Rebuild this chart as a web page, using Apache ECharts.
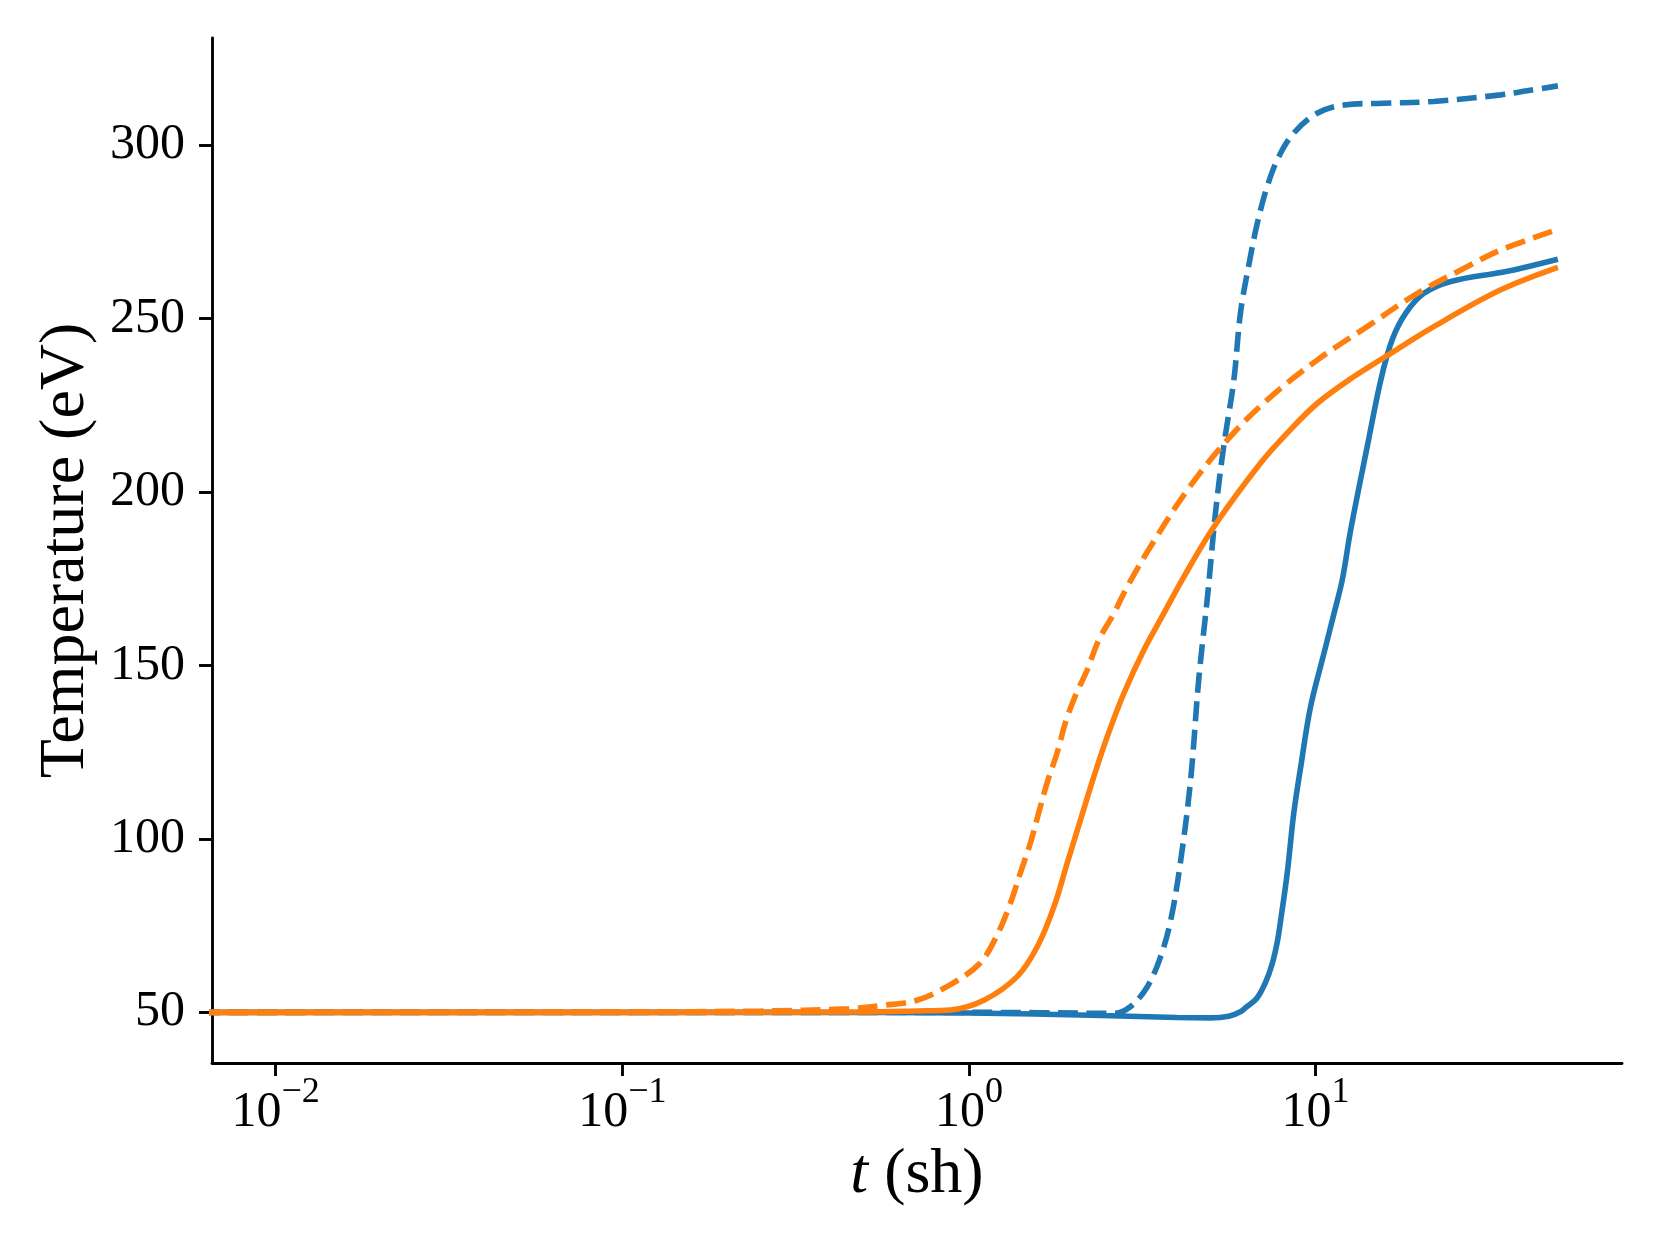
<!DOCTYPE html>
<html>
<head>
<meta charset="utf-8">
<title>Temperature vs t</title>
<script src="https://cdn.jsdelivr.net/npm/echarts@6/dist/echarts.min.js"></script>
<style type="text/css">
    html, body { margin: 0; padding: 0; background: #fff; }
    #main { width: 1660px; height: 1245px; }
</style>
</head>
<body>
<div id="main"></div>
<script type="text/javascript">
    // time points (sh) and temperatures (eV)
    var blueSolidT = [0.005, 0.316, 1, 2.40, 3.98, 4.98, 5.62, 6.07, 6.31, 6.76, 7.16, 7.50, 7.76, 7.93, 8.28, 8.65, 9.06, 9.67, 10.57, 11.30, 11.94, 12.62, 14.09, 15.42, 16.63, 18.20, 20.54, 24.55, 34.2, 37.3, 50];
    var blueSolidTemp = [50, 50, 49.8, 49.1, 48.5, 48.4, 48.9, 50.2, 51.5, 54.0, 58.5, 64.1, 70.5, 76.6, 90, 107.4, 120.8, 138.1, 153.5, 165, 174.7, 189, 213.1, 232.3, 243.9, 251.6, 257.3, 260.7, 263.3, 264, 267.1];

    var blueDashT = [0.005, 1, 1.58, 2.62, 2.92, 3.27, 3.57, 3.82, 4.07, 4.36, 4.60, 4.89, 5.14, 5.43, 5.81, 6.07, 6.43, 6.79, 7.25, 7.83, 8.65, 10.1, 12.1, 15.7, 21.9, 34.2, 40.8, 50];
    var blueDashTemp = [50, 50, 49.9, 49.7, 51.6, 57.4, 66, 76.6, 92.9, 117, 145.8, 171, 193.8, 213.1, 232.3, 251.6, 265.9, 277.5, 288.1, 296.7, 303.5, 309.2, 311.6, 312.1, 312.6, 314.5, 315.7, 317.1];

    var orangeSolidT = [0.005, 0.1, 0.5, 0.708, 0.884, 1.104, 1.377, 1.574, 1.758, 1.920, 2.098, 2.291, 2.506, 2.799, 3.196, 3.648, 4.121, 5.09, 6.93, 8.28, 10.12, 12.9, 16.47, 21.93, 34.2, 50];
    var orangeSolidTemp = [50, 50, 50.1, 50.4, 50.7, 53.5, 60.3, 68.9, 80.4, 93.0, 105.5, 117.9, 129.5, 142, 154.5, 165, 174.7, 190, 208.3, 217, 225.6, 233.3, 240, 247.7, 258.3, 264.8];

    var orangeDashT = [0.005, 0.1, 0.251, 0.447, 0.562, 0.708, 0.884, 1.072, 1.202, 1.318, 1.408, 1.505, 1.590, 1.682, 1.797, 1.899, 2.028, 2.193, 2.370, 2.618, 2.862, 3.342, 4.266, 5.559, 7.257, 10.12, 14.09, 19.66, 27.42, 34.2, 50];
    var orangeDashTemp = [50, 50.1, 50.4, 51, 52, 53.5, 58, 64, 72, 81.6, 90.3, 98.9, 107.6, 116.3, 124.9, 133.6, 141.3, 148.7, 157.4, 165, 172.7, 184.3, 200.6, 215, 226.6, 238.1, 247.7, 257.3, 265, 269.8, 275.7];

    // axis ticks
    var xTicks = [0.01, 0.1, 1, 10];
    var yTicks = [50, 100, 150, 200, 250, 300];

    function pairs(xs, ys) {
        var out = [];
        for (var i = 0; i < xs.length; i++) {
            out.push([xs[i], ys[i]]);
        }
        return out;
    }

    function lineSeries(name, xs, ys, color, dashed) {
        return {
            name: name,
            type: 'line',
            data: pairs(xs, ys),
            showSymbol: false,
            smooth: 0.35,
            clip: true,
            lineStyle: {
                color: color,
                width: 5.6,
                type: dashed ? [20, 8.6] : 'solid',
                cap: 'butt'
            }
        };
    }

    var myChart = echarts.init(document.getElementById('main'), null, {renderer: 'canvas'});

    myChart.setOption({
        animation: false,
        backgroundColor: '#ffffff',
        textStyle: {
            fontFamily: 'Liberation Serif',
            color: '#000'
        },
        grid: {
            left: 212,
            right: 38,
            top: 38,
            bottom: 182,
            containLabel: false,
            outerBoundsMode: 'none'
        },
        xAxis: {
            type: 'log',
            logBase: 10,
            min: 0.00655,
            max: 76.55,
            name: '{it|t} (sh)',
            nameLocation: 'middle',
            nameGap: 75,
            nameTextStyle: {
                fontSize: 64,
                color: '#000',
                fontFamily: 'Liberation Serif',
                rich: {
                    it: {
                        fontSize: 64,
                        fontStyle: 'italic',
                        fontFamily: 'Liberation Serif',
                        color: '#000'
                    }
                }
            },
            axisLine: {
                show: true,
                onZero: false,
                lineStyle: { color: '#000', width: 2.9 }
            },
            axisTick: {
                show: true,
                inside: false,
                length: 13,
                customValues: xTicks,
                lineStyle: { color: '#000', width: 2.9 }
            },
            minorTick: { show: false },
            splitLine: { show: false },
            axisLabel: {
                show: true,
                margin: 12,
                customValues: xTicks,
                formatter: function (v) {
                    var e = Math.round(Math.log(v) / Math.LN10);
                    var s = e < 0 ? '\u2212' + (-e) : '' + e;
                    return '{b|10}{s|' + s + '}';
                },
                rich: {
                    b: {
                        fontSize: 50,
                        lineHeight: 63,
                        verticalAlign: 'bottom',
                        fontFamily: 'Liberation Serif',
                        color: '#000'
                    },
                    s: {
                        fontSize: 36,
                        lineHeight: 36,
                        verticalAlign: 'top',
                        fontFamily: 'Liberation Serif',
                        color: '#000'
                    }
                }
            }
        },
        yAxis: {
            type: 'value',
            min: 35.4,
            max: 330.9,
            name: 'Temperature (eV)',
            nameLocation: 'middle',
            nameRotate: 90,
            nameGap: 114,
            nameTextStyle: {
                fontSize: 64,
                color: '#000',
                fontFamily: 'Liberation Serif'
            },
            axisLine: {
                show: true,
                onZero: false,
                lineStyle: { color: '#000', width: 2.9 }
            },
            axisTick: {
                show: true,
                inside: false,
                length: 13,
                customValues: yTicks,
                lineStyle: { color: '#000', width: 2.9 }
            },
            splitLine: { show: false },
            axisLabel: {
                show: true,
                margin: 27,
                customValues: yTicks,
                fontSize: 50,
                color: '#000',
                fontFamily: 'Liberation Serif'
            }
        },
        series: [
            lineSeries('blue solid', blueSolidT, blueSolidTemp, '#1f77b4', false),
            lineSeries('blue dashed', blueDashT, blueDashTemp, '#1f77b4', true),
            lineSeries('orange solid', orangeSolidT, orangeSolidTemp, '#ff7f0e', false),
            lineSeries('orange dashed', orangeDashT, orangeDashTemp, '#ff7f0e', true)
        ]
    });
</script>
</body>
</html>
